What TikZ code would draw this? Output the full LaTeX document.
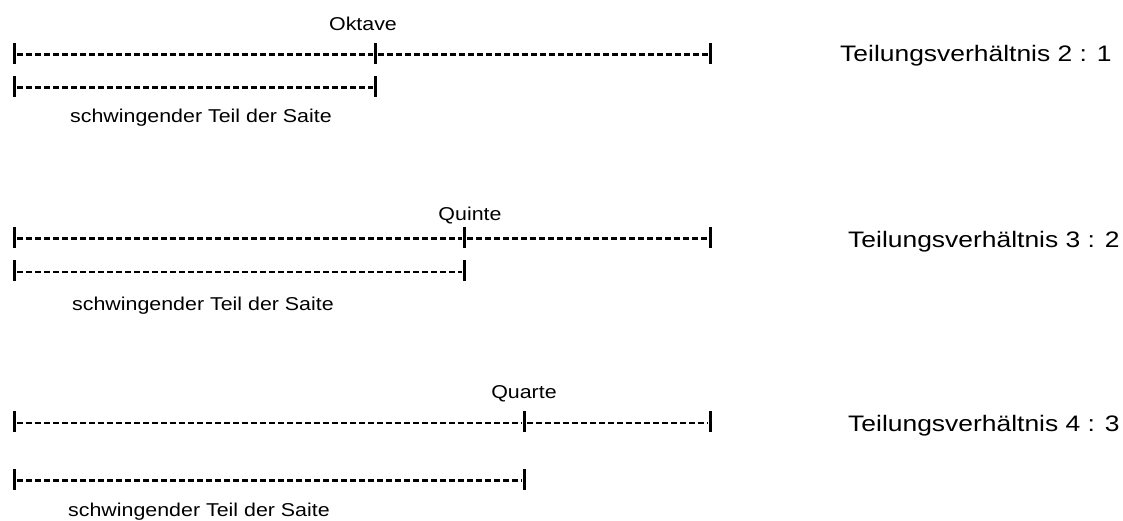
\documentclass[tikz,border=0pt]{standalone}
\usepackage{fontspec}
\setmainfont{Liberation Sans}
\newfontfamily\smallwide[FakeStretch=1.15]{Liberation Sans}
\newfontfamily\bigwide[FakeStretch=1.18]{Liberation Sans}
\begin{document}
\begin{tikzpicture}[x=1pt,y=-1pt,
  bar/.style={fill=black,inner sep=0pt,minimum width=3pt,minimum height=21pt,draw=none},
  dashrule/.style={line width=2.2pt,dash pattern=on 6pt off 3pt,dash phase=7.5pt},
  intervall/.style={font=\smallwide\fontsize{18.6}{20}\selectfont,anchor=base,inner sep=0pt},
  teil/.style={font=\smallwide\fontsize{18.6}{20}\selectfont,anchor=base west,inner sep=0pt},
  verh/.style={font=\bigwide\fontsize{22.4}{24}\selectfont,anchor=base west,inner sep=0pt}]
\useasboundingbox (0,0) rectangle (1123,520);

% Oktave, 2 : 1
\node[bar] (o1) at (14,53) {};
\node[bar] (o2) at (375,53) {};
\node[bar] (o3) at (710,53) {};
\node[bar] (o4) at (14,86) {};
\node[bar] (o5) at (375,86) {};
\draw[dashrule] ([yshift=-1.5pt]o1.east) -- ([yshift=-1.5pt]o2.west);
\draw[dashrule] ([yshift=-1.5pt]o2.east) -- ([yshift=-1.5pt]o3.west);
\draw[dashrule] ([yshift=-1.5pt]o4.east) -- ([yshift=-1.5pt]o5.west);
\node[intervall] (okt) at (363,30.5) {Oktave};
\node[teil] (ot) at (70,122) {schwingender Teil der Saite};
\node[verh] (ov) at (840,61) {Teilungsverhältnis 2 : 1};

% Quinte, 3 : 2
\node[bar] (q1) at (14,237) {};
\node[bar] (q2) at (464,237) {};
\node[bar] (q3) at (710,237) {};
\node[bar] (q4) at (14,270.5) {};
\node[bar] (q5) at (464,270.5) {};
\draw[dashrule] ([yshift=-1.5pt]q1.east) -- ([yshift=-1.5pt]q2.west);
\draw[dashrule] ([yshift=-1.5pt]q2.east) -- ([yshift=-1.5pt]q3.west);
\draw[dashrule] ([yshift=-1.5pt]q4.east) -- ([yshift=-1.5pt]q5.west);
\node[intervall] (qui) at (470,220) {Quinte};
\node[teil] (qt) at (72,310.5) {schwingender Teil der Saite};
\node[verh] (qv) at (848,247) {Teilungsverhältnis 3 : 2};

% Quarte, 4 : 3
\node[bar] (r1) at (14,421.5) {};
\node[bar] (r2) at (524,421.5) {};
\node[bar] (r3) at (710,421.5) {};
\node[bar] (r4) at (14,479) {};
\node[bar] (r5) at (524,479) {};
\draw[dashrule] ([yshift=-1.5pt]r1.east) -- ([yshift=-1.5pt]r2.west);
\draw[dashrule] ([yshift=-1.5pt]r2.east) -- ([yshift=-1.5pt]r3.west);
\draw[dashrule] ([yshift=-1.5pt]r4.east) -- ([yshift=-1.5pt]r5.west);
\node[intervall] (qua) at (524,398) {Quarte};
\node[teil] (rt) at (68,516.5) {schwingender Teil der Saite};
\node[verh] (rv) at (848,431) {Teilungsverhältnis 4 : 3};
\end{tikzpicture}
\end{document}
